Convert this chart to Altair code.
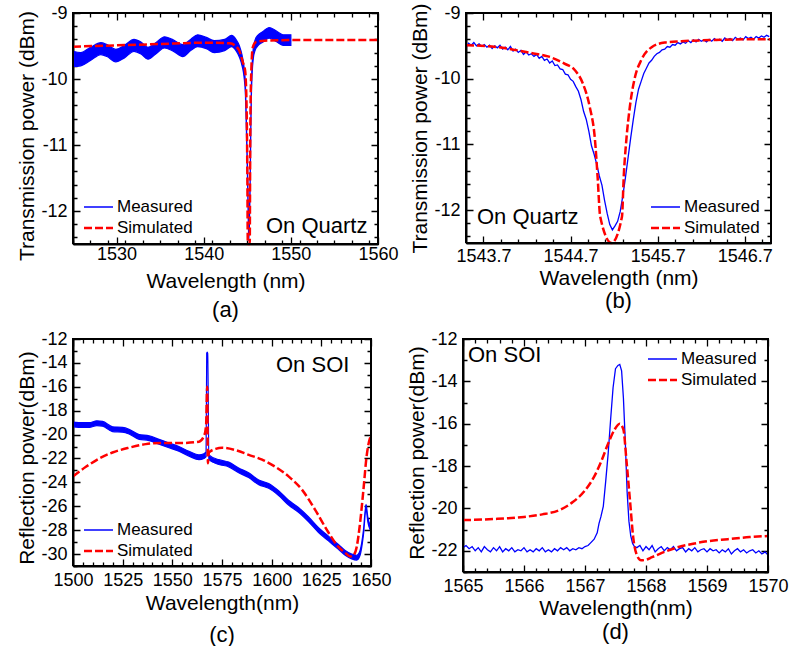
import json
import altair as alt
import pandas as pd

FONT = "Liberation Sans"
BLUE = "#0000ff"
RED = "#ff0000"
M = 8  # margin between the view edge and the boxed plotting range

# ---------------- (a) transmission, on quartz, broad span ----------------
a_meas_wl = [1525.0, 1525.9, 1527.0, 1528.2, 1528.9, 1529.9, 1530.9, 1532.0, 1532.8, 1533.6,
             1534.5, 1535.5, 1536.4, 1537.6, 1538.5, 1539.3, 1540.3, 1541.2, 1542.4, 1543.2,
             1543.7, 1544.1, 1544.4, 1544.63, 1544.79, 1544.92, 1545.01, 1545.09, 1545.17, 1545.24,
             1545.32, 1545.40, 1545.47, 1545.55, 1545.70, 1545.89, 1546.2, 1546.8, 1547.5, 1548.3,
             1549.1, 1550.0]
a_meas_hi = [-9.58, -9.60, -9.52, -9.45, -9.48, -9.55, -9.49, -9.40, -9.44, -9.52,
             -9.45, -9.36, -9.40, -9.48, -9.40, -9.33, -9.37, -9.42, -9.40, -9.34,
             -9.40, -9.50, -9.64, -9.82, -10.10, -10.75, -11.27, -11.83, -12.22, -12.08,
             -11.57, -10.71, -10.10, -9.79, -9.52, -9.41, -9.34, -9.28, -9.22, -9.27,
             -9.33, -9.33]
a_meas_lo = [-9.81, -9.80, -9.72, -9.63, -9.66, -9.74, -9.68, -9.58, -9.62, -9.70,
             -9.62, -9.53, -9.57, -9.66, -9.57, -9.51, -9.54, -9.60, -9.57, -9.51,
             -9.57, -9.67, -9.80, -9.97, -10.25, -10.90, -11.42, -11.98, -12.45, -12.23,
             -11.72, -10.86, -10.25, -9.94, -9.68, -9.57, -9.50, -9.44, -9.38, -9.43,
             -9.49, -9.49]
a_sim_wl = [1525.0, 1530.0, 1535.0, 1540.0, 1543.0, 1544.0, 1544.5, 1544.75, 1544.92, 1545.01,
            1545.06, 1545.17, 1545.28, 1545.34, 1545.44, 1545.63, 1546.0, 1547.0, 1550.0, 1555.0,
            1560.0]
a_sim_db = [-9.51, -9.49, -9.47, -9.45, -9.46, -9.55, -9.75, -9.87, -10.43, -11.49,
            -12.50, -14.00, -12.50, -10.93, -9.97, -9.52, -9.44, -9.42, -9.41, -9.41,
            -9.41]

# ---------------- (b) transmission, on quartz, close-up ----------------
b_meas_wl = [1543.50, 1543.53, 1543.56, 1543.59, 1543.62, 1543.65, 1543.68, 1543.71, 1543.74, 1543.77,
             1543.80, 1543.83, 1543.86, 1543.89, 1543.92, 1543.95, 1543.98, 1544.01, 1544.04, 1544.07,
             1544.10, 1544.13, 1544.16, 1544.19, 1544.22, 1544.25, 1544.28, 1544.31, 1544.34, 1544.37,
             1544.40, 1544.43, 1544.46, 1544.49, 1544.52, 1544.55, 1544.58, 1544.61, 1544.64, 1544.67,
             1544.70, 1544.73, 1544.76, 1544.79, 1544.82, 1544.85, 1544.88, 1544.91, 1544.94, 1544.97,
             1545.00, 1545.03, 1545.06, 1545.09, 1545.12, 1545.15, 1545.18, 1545.21, 1545.24, 1545.27,
             1545.30, 1545.33, 1545.36, 1545.39, 1545.42, 1545.45, 1545.48, 1545.51, 1545.54, 1545.57,
             1545.60, 1545.63, 1545.66, 1545.69, 1545.72, 1545.75, 1545.78, 1545.81, 1545.84, 1545.87,
             1545.90, 1545.93, 1545.96, 1545.99, 1546.02, 1546.05, 1546.08, 1546.11, 1546.14, 1546.17,
             1546.20, 1546.23, 1546.26, 1546.29, 1546.32, 1546.35, 1546.38, 1546.41, 1546.44, 1546.47,
             1546.50, 1546.53, 1546.56, 1546.59, 1546.62, 1546.65, 1546.68, 1546.71, 1546.74, 1546.77,
             1546.80, 1546.83, 1546.86, 1546.89, 1546.92, 1546.95, 1546.98]
b_meas_db = [-9.53, -9.46, -9.49, -9.45, -9.50, -9.47, -9.51, -9.48, -9.52, -9.49,
             -9.54, -9.50, -9.53, -9.49, -9.55, -9.52, -9.56, -9.51, -9.58, -9.55,
             -9.60, -9.57, -9.63, -9.59, -9.64, -9.62, -9.66, -9.63, -9.69, -9.66,
             -9.72, -9.70, -9.76, -9.73, -9.80, -9.79, -9.85, -9.86, -9.93, -9.94,
             -10.01, -10.04, -10.12, -10.19, -10.32, -10.50, -10.62, -10.80, -11.02, -11.15,
             -11.30, -11.48, -11.62, -11.85, -12.05, -12.22, -12.30, -12.24, -12.17, -12.02,
             -11.78, -11.50, -11.20, -10.90, -10.62, -10.36, -10.16, -10.04, -9.92, -9.84,
             -9.76, -9.72, -9.66, -9.62, -9.60, -9.56, -9.55, -9.51, -9.52, -9.48,
             -9.49, -9.45, -9.47, -9.44, -9.46, -9.42, -9.45, -9.41, -9.44, -9.40,
             -9.43, -9.41, -9.44, -9.40, -9.43, -9.39, -9.42, -9.40, -9.43, -9.38,
             -9.41, -9.39, -9.42, -9.37, -9.40, -9.38, -9.41, -9.36, -9.39, -9.37,
             -9.40, -9.36, -9.38, -9.35, -9.37, -9.34, -9.36]
b_sim_wl = [1543.50, 1543.87, 1544.25, 1544.44, 1544.63, 1544.75, 1544.84, 1544.92, 1544.98, 1545.01,
            1545.04, 1545.17, 1545.29, 1545.31, 1545.34, 1545.38, 1545.44, 1545.51, 1545.63, 1545.78,
            1545.97, 1546.35, 1546.74, 1547.00]
b_sim_db = [-9.49, -9.52, -9.61, -9.66, -9.77, -9.87, -10.07, -10.43, -10.93, -11.49,
            -12.10, -14.00, -12.10, -11.49, -10.93, -10.43, -9.97, -9.72, -9.52, -9.45,
            -9.43, -9.41, -9.40, -9.40]

# ---------------- (c) reflection, on SOI, broad span ----------------
c_meas_wl = [1500.0, 1505.0, 1508.2, 1512.0, 1514.9, 1519.9, 1524.9, 1528.2, 1533.3, 1538.3,
             1543.3, 1548.3, 1553.3, 1558.4, 1563.4, 1565.9, 1567.0, 1567.3, 1567.55, 1567.8,
             1568.4, 1573.4, 1578.4, 1583.4, 1588.4, 1593.5, 1598.5, 1603.5, 1608.5, 1613.5,
             1618.6, 1623.6, 1628.6, 1633.6, 1637.0, 1640.3, 1642.8, 1644.5, 1646.2, 1647.5,
             1648.4, 1649.4, 1650.0]
c_meas_hi = [-18.95, -19.00, -19.00, -18.85, -18.90, -19.35, -19.40, -19.55, -20.00, -20.10,
             -20.40, -20.70, -21.00, -21.40, -21.70, -21.60, -21.45, -13.20, -13.10, -13.20,
             -21.70, -22.10, -22.30, -22.80, -23.20, -23.80, -24.10, -24.70, -25.50, -26.10,
             -26.90, -27.80, -28.50, -29.20, -29.70, -30.00, -30.10, -29.70, -28.00, -25.85,
             -26.90, -27.50, -27.65]
c_meas_lo = [-19.35, -19.40, -19.40, -19.25, -19.30, -19.75, -19.80, -19.95, -20.40, -20.50,
             -20.80, -21.10, -21.40, -21.80, -22.10, -22.00, -21.85, -13.30, -13.20, -13.30,
             -22.10, -22.50, -22.70, -23.20, -23.60, -24.20, -24.50, -25.10, -25.90, -26.50,
             -27.30, -28.20, -28.90, -29.60, -30.10, -30.40, -30.50, -30.10, -28.40, -26.25,
             -27.30, -27.90, -28.05]
c_sim_wl = [1500.0, 1506.5, 1513.2, 1519.9, 1528.2, 1536.6, 1545.0, 1555.0, 1563.4, 1566.0,
            1567.0, 1567.55, 1567.9, 1568.4, 1571.8, 1575.1, 1581.8, 1588.5, 1595.2, 1601.9,
            1608.5, 1615.2, 1621.9, 1628.6, 1633.6, 1637.0, 1639.5, 1641.1, 1642.8, 1644.5,
            1646.2, 1647.8, 1649.5, 1650.0]
c_sim_db = [-23.5, -22.7, -22.0, -21.5, -21.1, -20.8, -20.7, -20.7, -20.6, -20.1,
            -19.2, -16.0, -22.4, -21.5, -21.2, -21.1, -21.3, -21.7, -22.1, -22.7,
            -23.5, -24.6, -26.3, -28.2, -29.4, -29.9, -30.2, -30.1, -29.4, -27.4,
            -24.6, -21.8, -20.3, -20.1]

# ---------------- (d) reflection, on SOI, close-up ----------------
d_meas_wl = [1565.00, 1565.05, 1565.10, 1565.15, 1565.20, 1565.25, 1565.30, 1565.35, 1565.40, 1565.45,
             1565.50, 1565.55, 1565.60, 1565.65, 1565.70, 1565.75, 1565.80, 1565.85, 1565.90, 1565.95,
             1566.00, 1566.05, 1566.10, 1566.15, 1566.20, 1566.25, 1566.30, 1566.35, 1566.40, 1566.45,
             1566.50, 1566.55, 1566.60, 1566.65, 1566.70, 1566.75, 1566.80, 1566.85, 1566.90, 1566.95,
             1567.00, 1567.05, 1567.10, 1567.15, 1567.20, 1567.23, 1567.26, 1567.30, 1567.34, 1567.38,
             1567.42, 1567.46, 1567.50, 1567.54, 1567.57, 1567.60, 1567.63, 1567.66, 1567.69, 1567.72,
             1567.75, 1567.78, 1567.81, 1567.85, 1567.90, 1567.95, 1568.00, 1568.05, 1568.10, 1568.15,
             1568.20, 1568.25, 1568.30, 1568.35, 1568.40, 1568.45, 1568.50, 1568.55, 1568.60, 1568.65,
             1568.70, 1568.75, 1568.80, 1568.85, 1568.90, 1568.95, 1569.00, 1569.05, 1569.10, 1569.15,
             1569.20, 1569.25, 1569.30, 1569.35, 1569.40, 1569.45, 1569.50, 1569.55, 1569.60, 1569.65,
             1569.70, 1569.75, 1569.80, 1569.85, 1569.90, 1569.95, 1570.00]
d_meas_db = [-21.85, -21.75, -21.90, -21.80, -22.00, -21.85, -22.05, -21.80, -21.95, -22.05,
             -21.85, -22.00, -21.80, -22.05, -21.90, -22.00, -21.85, -22.05, -21.95, -22.00,
             -21.85, -22.05, -21.95, -22.05, -21.90, -22.00, -21.85, -22.05, -21.95, -22.05,
             -21.90, -22.00, -21.85, -21.95, -21.85, -22.00, -21.90, -21.95, -21.85, -21.90,
             -21.80, -21.75, -21.60, -21.45, -21.15, -20.70, -20.40, -19.90, -18.70, -17.40,
             -15.80, -14.30, -13.40, -13.25, -13.20, -13.50, -14.80, -16.80, -19.20, -20.60,
             -21.30, -21.65, -21.80, -21.85, -21.75, -22.00, -21.80, -21.95, -21.75, -22.05,
             -21.90, -21.80, -22.00, -21.85, -21.95, -21.80, -22.00, -21.90, -21.85, -22.05,
             -21.90, -22.00, -21.85, -22.05, -21.95, -21.90, -22.05, -21.90, -22.00, -21.95,
             -22.10, -21.95, -22.05, -21.90, -22.15, -22.00, -21.90, -22.05, -21.95, -22.10,
             -22.00, -21.95, -22.10, -22.00, -22.15, -22.05, -22.20]
d_sim_wl = [1565.00, 1565.50, 1566.00, 1566.30, 1566.60, 1566.80, 1567.00, 1567.15, 1567.27, 1567.38,
            1567.48, 1567.57, 1567.63, 1567.68, 1567.74, 1567.79, 1567.85, 1567.92, 1568.00, 1568.10,
            1568.26, 1568.50, 1568.80, 1569.00, 1569.34, 1569.70, 1570.00]
d_sim_db = [-20.55, -20.50, -20.40, -20.28, -20.05, -19.70, -19.15, -18.50, -17.75, -16.93,
            -16.30, -16.00, -16.28, -17.75, -19.71, -21.35, -22.20, -22.45, -22.42, -22.30,
            -22.10, -21.85, -21.65, -21.55, -21.45, -21.35, -21.30]

# axis ticks (major ones carry labels)
a_xmaj = [1530, 1540, 1550, 1560]
a_xmin = [1525, 1527, 1529, 1531, 1533, 1535, 1537, 1539, 1541, 1543, 1545, 1547, 1549, 1551, 1553, 1555, 1557, 1559]
a_ymaj = [-9, -10, -11, -12]
a_ymin = [-9.2, -9.4, -9.6, -9.8, -10.2, -10.4, -10.6, -10.8, -11.2, -11.4, -11.6, -11.8, -12.2, -12.4]
b_xmaj = [1543.7, 1544.7, 1545.7, 1546.7]
b_xmin = [1543.9, 1544.1, 1544.3, 1544.5, 1544.9, 1545.1, 1545.3, 1545.5, 1545.9, 1546.1, 1546.3, 1546.5, 1546.9]
c_xmaj = [1500, 1525, 1550, 1575, 1600, 1625, 1650]
c_xmin = [1505, 1510, 1515, 1520, 1530, 1535, 1540, 1545, 1555, 1560, 1565, 1570,
          1580, 1585, 1590, 1595, 1605, 1610, 1615, 1620, 1630, 1635, 1640, 1645]
c_ymaj = [-12, -14, -16, -18, -20, -22, -24, -26, -28, -30]
c_ymin = [-13, -15, -17, -19, -21, -23, -25, -27, -29, -31]
d_xmaj = [1565, 1566, 1567, 1568, 1569, 1570]
d_xmin = [1565.2, 1565.4, 1565.6, 1565.8, 1566.2, 1566.4, 1566.6, 1566.8, 1567.2, 1567.4, 1567.6, 1567.8,
          1568.2, 1568.4, 1568.6, 1568.8, 1569.2, 1569.4, 1569.6, 1569.8]
d_ymaj = [-12, -14, -16, -18, -20, -22]
d_ymin = [-13, -15, -17, -19, -21, -23]

ONE = pd.DataFrame({"k": [0]})


def frame_axis(maj, mnr, across, title, lab_pad, title_pad, **extra):
    """Axis pulled in onto the box edge; its grid lines, dashed to short stubs at
    both ends, serve as inward ticks on opposite sides of the box."""
    is_major = f"indexof({json.dumps(maj)}, datum.value) >= 0"
    return alt.Axis(
        values=sorted(maj + mnr), title=title, offset=-M,
        ticks=False, domain=True, domainColor="black", domainWidth=2,
        labelFlush=False, labelOverlap=False,
        labelExpr=f"{is_major} ? toString(datum.value) : ''",
        grid=True, gridColor="black", gridOpacity=1, gridWidth=1.3,
        gridDash={"condition": {"test": is_major, "value": [7, across - 14, 7]},
                  "value": [4, across - 8, 4]},
        labelPadding=lab_pad, titlePadding=title_pad,
        labelFont=FONT, labelFontSize=18, labelColor="black",
        titleFont=FONT, titleFontSize=21, titleFontWeight="normal", titleColor="black", **extra)


def panel(tag, w, h, xdom, ydom, xmaj, xmin, ymaj, ymin, xtitle, ytitle,
          meas, sim, note, note_xy, leg_xy, pads, title_dy=0):
    lp, tp, to = pads
    xs = alt.Scale(domain=xdom, range=[M, M + w], nice=False, zero=False)
    ys = alt.Scale(domain=ydom, range=[M + h, M], nice=False, zero=False, clamp=True)
    xaxis = frame_axis(xmaj, xmin, h, xtitle, lp, tp)
    yaxis = frame_axis(ymaj, ymin, w, ytitle, 6, 3, titleY=M + h / 2 + title_dy)

    def X(f):
        return alt.X(f, scale=xs, axis=xaxis, title=xtitle)

    def Y(f):
        return alt.Y(f, scale=ys, axis=yaxis, title=ytitle)

    one = alt.Chart(ONE)
    layers = []

    kind, mdf = meas
    if kind == "band":
        layers.append(alt.Chart(mdf).mark_area(color=BLUE, stroke=BLUE, strokeWidth=1.2, clip=True,
                                               interpolate="monotone").encode(
            x=X("wl:Q"), y=Y("hi:Q"), y2="lo:Q"))
    else:
        layers.append(alt.Chart(mdf).mark_line(color=BLUE, strokeWidth=1.3, clip=True).encode(
            x=X("wl:Q"), y=Y("db:Q")))
    layers.append(alt.Chart(sim).mark_line(color=RED, strokeWidth=2.5, strokeDash=[8, 3],
                                           interpolate="monotone", clip=True).encode(
        x=X("wl:Q"), y=Y("db:Q")))

    # closed box along the corners of the plotting range
    corners = pd.DataFrame({
        "i": [0, 1, 2, 3, 4],
        "wl": [xdom[0], xdom[1], xdom[1], xdom[0], xdom[0]],
        "db": [ydom[0], ydom[0], ydom[1], ydom[1], ydom[0]],
    })
    layers.append(alt.Chart(corners).mark_line(color="black", strokeWidth=2).encode(
        x=X("wl:Q"), y=Y("db:Q"), order="i:O"))

    # legend drawn inside the box
    lx, ly, gap = M + leg_xy[0], M + leg_xy[1], 21
    layers += [
        one.mark_rule(color=BLUE, strokeWidth=1.5).encode(
            x=alt.value(lx), x2=alt.value(lx + 29), y=alt.value(ly)),
        one.mark_rule(color=RED, strokeWidth=2.5, strokeDash=[8, 3]).encode(
            x=alt.value(lx), x2=alt.value(lx + 29), y=alt.value(ly + gap)),
        one.mark_text(align="left", baseline="middle", font=FONT, fontSize=17).encode(
            x=alt.value(lx + 33), y=alt.value(ly), text=alt.value("Measured")),
        one.mark_text(align="left", baseline="middle", font=FONT, fontSize=17).encode(
            x=alt.value(lx + 33), y=alt.value(ly + gap), text=alt.value("Simulated")),
        one.mark_text(align="left", baseline="middle", font=FONT, fontSize=22).encode(
            x=alt.value(M + note_xy[0]), y=alt.value(M + note_xy[1]), text=alt.value(note)),
    ]
    return alt.layer(*layers).properties(
        width=w + 2 * M, height=h + 2 * M,
        title=alt.TitleParams(tag, orient="bottom", font=FONT, fontSize=22, fontWeight="normal",
                              frame="group", anchor="middle", offset=to))


pa = panel("(a)", 305, 231, [1525, 1560], [-12.5, -9], a_xmaj, a_xmin, a_ymaj, a_ymin,
           "Wavelength (nm)", "Transmission power (dBm)",
           ("band", pd.DataFrame({"wl": a_meas_wl, "hi": a_meas_hi, "lo": a_meas_lo})),
           pd.DataFrame({"wl": a_sim_wl, "db": a_sim_db}),
           "On Quartz", (193, 213), (11, 194), pads=(1, 7, 9), title_dy=7)
pb = panel("(b)", 305, 230, [1543.5, 1547.0], [-12.5, -9], b_xmaj, b_xmin, a_ymaj, a_ymin,
           "Wavelength (nm)", "Transmission power (dBm)",
           ("line", pd.DataFrame({"wl": b_meas_wl, "db": b_meas_db})),
           pd.DataFrame({"wl": b_sim_wl, "db": b_sim_db}),
           "On Quartz", (11, 204), (185, 194), pads=(4, 2, 3))
pc = panel("(c)", 298, 227, [1500, 1650], [-31, -12], c_xmaj, c_xmin, c_ymaj, c_ymin,
           "Wavelength(nm)", "Reflection power(dBm)",
           ("band", pd.DataFrame({"wl": c_meas_wl, "hi": c_meas_hi, "lo": c_meas_lo})),
           pd.DataFrame({"wl": c_sim_wl, "db": c_sim_db}),
           "On SOI", (203, 26), (11, 191), pads=(5, 3, 12), title_dy=5)
pd_ = panel("(d)", 305, 233, [1565, 1570], [-23, -12], d_xmaj, d_xmin, d_ymaj, d_ymin,
            "Wavelength(nm)", "Reflection power(dBm)",
            ("line", pd.DataFrame({"wl": d_meas_wl, "db": d_meas_db})),
            pd.DataFrame({"wl": d_sim_wl, "db": d_sim_db}),
            "On SOI", (5, 16), (185, 20), pads=(5, 2, 4), title_dy=-3)

top = alt.hconcat(pa, pb, spacing=10)
bottom = alt.hconcat(pc, pd_, spacing=14)
chart = alt.vconcat(top, bottom, spacing=9).properties(
    padding={"left": 16, "top": 2, "right": 0, "bottom": 0}
).configure(background="white").configure_view(stroke=None)

chart.save("out.html", embed_options={"renderer": "svg", "actions": False})
